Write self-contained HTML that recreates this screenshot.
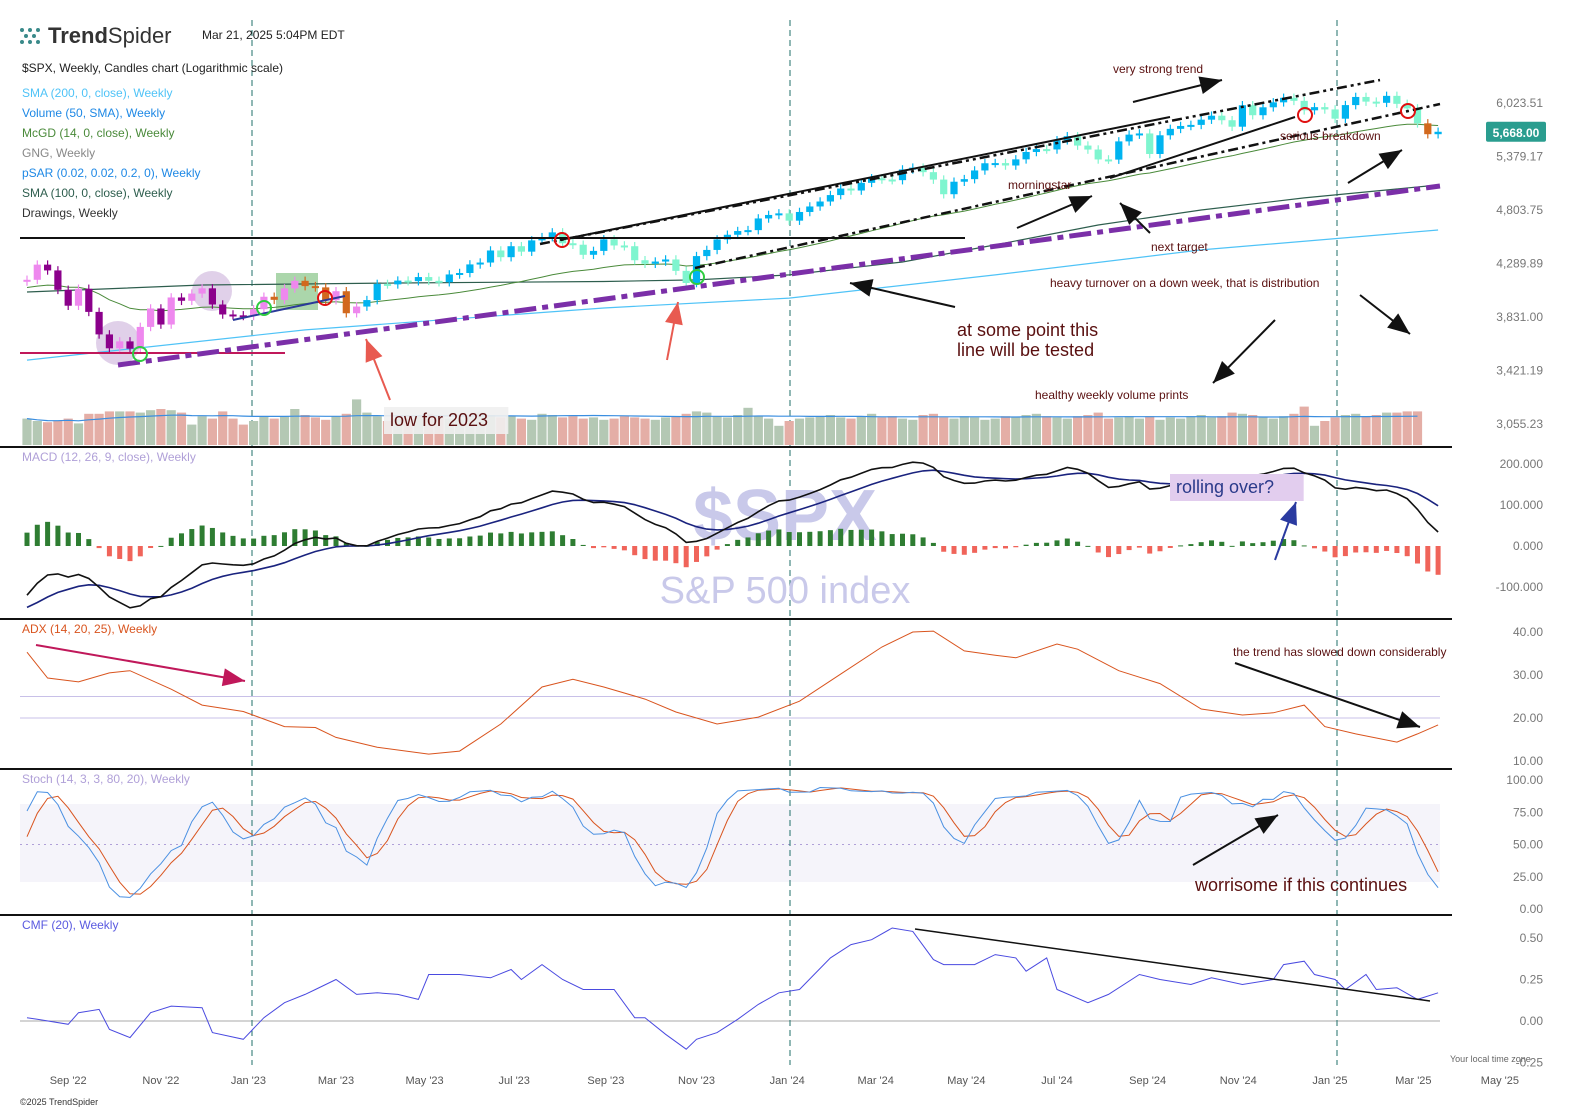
<!DOCTYPE html>
<html><head><meta charset="utf-8">
<style>
html,body{margin:0;padding:0;background:#fff;}
svg{display:block;font-family:"Liberation Sans",sans-serif;}
</style></head>
<body>
<svg id="chart" width="1580" height="1119" viewBox="0 0 1580 1119">
<rect x="0" y="0" width="1580" height="1119" fill="#fff"/>
<g id="bg"></g>
<g id="header">
  <g fill="#3a8a8a">
    <circle cx="22" cy="30" r="2"/><circle cx="30" cy="30" r="2"/><circle cx="38" cy="30" r="2"/>
    <circle cx="26" cy="36" r="2"/><circle cx="34" cy="36" r="2"/>
    <circle cx="22" cy="42" r="2"/><circle cx="30" cy="42" r="2"/><circle cx="38" cy="42" r="2"/>
  </g>
  <text x="48" y="43" font-size="22" fill="#333"><tspan font-weight="bold">Trend</tspan>Spider</text>
  <text x="202" y="39" font-size="12" fill="#222">Mar 21, 2025 5:04PM EDT</text>
  <text x="22" y="72" font-size="12" fill="#222">$SPX, Weekly, Candles chart (Logarithmic scale)</text>
  <text x="22" y="97" font-size="12" fill="#4fc3f7">SMA (200, 0, close), Weekly</text>
  <text x="22" y="117" font-size="12" fill="#1e88e5">Volume (50, SMA), Weekly</text>
  <text x="22" y="137" font-size="12" fill="#4a8a3a">McGD (14, 0, close), Weekly</text>
  <text x="22" y="157" font-size="12" fill="#888">GNG, Weekly</text>
  <text x="22" y="177" font-size="12" fill="#1e88e5">pSAR (0.02, 0.02, 0.2, 0), Weekly</text>
  <text x="22" y="197" font-size="12" fill="#2e5e4e">SMA (100, 0, close), Weekly</text>
  <text x="22" y="217" font-size="12" fill="#333">Drawings, Weekly</text>
</g>
<g id="wm">
  <text x="785" y="540" font-size="72" font-weight="bold" fill="#c9c9ea" text-anchor="middle">$SPX</text>
  <text x="785" y="603" font-size="38" fill="#c9c9ea" text-anchor="middle">S&amp;P 500 index</text>
</g>
<g id="plot"></g>
<g id="draw"></g>
<g id="axes"></g>
</svg>
<script>
// ===== DATA =====
const warmCloses = [4677,4663,4398,4432,4500,4419,4349,4385,4329,4204,4463,4543,4546,4488,4392,4272,4132,4123,4024,3901,4158,4109,3901,3675,3912,3825,3899,3863,3962,4130];
const closes = [4145,4280,4228,4058,3924,4067,3873,3693,3586,3639,3583,3752,3901,3771,3993,3965,4026,4071,3934,3852,3845,3840,
3895,3999,3973,4070,4136,4090,4079,3970,4046,3862,3917,3971,4109,4105,4138,4133,4169,4136,4124,4192,4205,4282,4299,4410,4348,4450,4399,4505,4536,4582,4478,4464,4370,4406,4515,4457,4450,4320,4288,4308,4327,4224,4117,4358,4415,4514,4559,4595,4604,4719,4754,4770,
4697,4784,4840,4891,4958,5027,5006,5088,5137,5124,5117,5234,5254,5204,5123,4967,5100,5128,5223,5303,5305,5278,5347,5431,5464,5460,5567,5615,5505,5459,5346,5344,5554,5634,5648,5408,5626,5703,5738,5751,5815,5864,5808,5729,5995,5870,5969,6032,6090,6051,5931,5971,
5942,5827,5997,6101,6041,6026,6115,6013,5955,5770,5639,5668];
const volumes = [22,20,19,20,22,18,26,26,28,28,28,27,29,30,29,27,17,24,22,28,22,17,
20,24,22,24,30,25,23,21,24,26,38,27,24,20,22,25,24,26,23,22,21,24,27,25,23,24,22,21,26,25,23,24,22,23,21,22,24,23,22,21,23,24,26,28,27,24,23,25,31,24,22,
16,20,22,23,24,25,23,22,24,26,23,24,22,21,25,26,23,22,24,23,21,22,24,23,25,26,24,23,22,24,25,27,22,23,24,22,24,21,23,22,24,25,23,24,27,26,25,23,22,24,26,
32,16,20,23,25,26,24,25,27,27,28,28];
const sma200Weeks = [0,27,56,74,94,114,137];
const sma200Vals = [3498,3728,3905,3988,4188,4415,4605];
const sma100Weeks = [0,17,36,56,65,74,85,94,104,114,124,137];
const sma100Vals = [4039,4100,4117,4130,4144,4188,4304,4462,4654,4804,4928,5065];
const adxWeeks = [0,2,5,8,10,14,17,21,25,28,30,34,39,42,46,50,53,56,60,63,67,71,75,79,83,86,88,91,94,96,100,102,106,110,114,118,121,124,126,129,133,135,137];
const adxVals = [35.3,29.3,28.4,30.5,31,26.7,23,21.5,18,17.8,15.5,13.2,11.6,12.3,18.6,27.2,29,27.2,24.4,21.4,18.6,20.2,23.9,30.2,36.5,40,40.2,35.6,34.6,34,37.2,36,31,28,22.1,20.7,21.2,23,18,16.3,14.4,16.3,18.4];
const cmfWeeks = [0,1,4,5,7,8,10,12,14,17,18,21,23,25,27,28,30,32,34,36,38,39,42,45,47,48,50,52,54,57,59,60,62,64,65,67,69,71,73,75,78,80,82,84,86,88,89,92,94,96,97,99,100,103,105,108,110,113,115,118,121,122,124,125,127,128,130,131,133,135,137];
const cmfVals = [0.02,0.01,-0.02,0.05,0.07,-0.05,-0.1,0.05,0.09,0.08,-0.07,-0.11,0.02,0.11,0.16,0.19,0.25,0.16,0.17,0.16,0.13,0.28,0.28,0.26,0.31,0.25,0.34,0.25,0.19,0.19,0.02,0.02,-0.08,-0.17,-0.11,-0.07,0.01,0.1,0.17,0.19,0.38,0.46,0.49,0.56,0.54,0.37,0.34,0.34,0.4,0.38,0.3,0.38,0.19,0.11,0.16,0.28,0.25,0.22,0.26,0.22,0.25,0.34,0.36,0.28,0.25,0.19,0.28,0.19,0.2,0.13,0.17];
const priceTicks = [6023.51,5379.17,4803.75,4289.89,3831.00,3421.19,3055.23];
const macdTicks = [200,100,0,-100];
const adxTicks = [40,30,20,10];
const stochTicks = [100,75,50,25,0];
const cmfTicks = [0.5,0.25,0,-0.25];
const xLabels = ["Sep '22","Nov '22","Jan '23","Mar '23","May '23","Jul '23","Sep '23","Nov '23","Jan '24","Mar '24","May '24","Jul '24","Sep '24","Nov '24","Jan '25","Mar '25","May '25"];
const xLabelWeeks = [4,13,21.5,30,38.6,47.3,56.2,65,73.8,82.4,91.2,100,108.8,117.6,126.5,134.6,143];

// ===== SCALES =====
const NS='http://www.w3.org/2000/svg';
const X0=27, DX=10.3;
const xW = w => X0 + w*DX;
const yP = p => 103 + 473*Math.log(6023.51/p);
const yM = v => 546 - v*0.41;
const yA = v => 761 - (v-10)*4.3;
const yS = v => 909 - v*1.29;
const yC = v => 1021 - v*166;
const VOLK = 1.2, HISTK = 0.45;
function el(tag, attrs, parent){const e=document.createElementNS(NS,tag);for(const k in attrs)e.setAttribute(k,attrs[k]);(parent||document.getElementById('plot')).appendChild(e);return e;}
function pathFrom(xs, ys){return xs.map((x,i)=>(i?'L':'M')+x.toFixed(1)+' '+ys[i].toFixed(1)).join(' ');}

const bg=document.getElementById('bg'), plot=document.getElementById('plot'), axes=document.getElementById('axes');

let r=el('rect',{x:20,y:804,width:1420,height:78,fill:'#f5f4fa'},bg);


let l;
l=el('line',{x1:20,x2:1440,y1:yS(50),y2:yS(50),stroke:'#b0a0d8','stroke-dasharray':'2 4'},bg);


[20,25].forEach(v=>{
  const g=el('line',{x1:20,x2:1440,y1:yA(v),y2:yA(v),stroke:'#c8c0e8'},bg);
  
  
});
l=el('line',{x1:20,x2:1440,y1:yC(0),y2:yC(0),stroke:'#aaa'},bg);


[252,790,1337].forEach(x=>{
  const v=el('line',{x1:x,x2:x,y1:20,y2:1065,stroke:'#1f6f6a','stroke-dasharray':'6 4'},bg);
  
  
});
let c=el('circle',{cx:118,cy:343,r:22,fill:'#d8c4e4',opacity:0.8},bg);


c=el('circle',{cx:212,cy:291,r:20,fill:'#d8c4e4',opacity:0.8},bg);


r=el('rect',{x:276,y:273,width:42,height:37,fill:'#8fc88f',opacity:0.75},bg);



[447,619,769,915].forEach(y=>{
  const s=el('line',{x1:0,x2:1452,y1:y,y2:y,stroke:'#111','stroke-width':2},axes);
  
  
});

// ===== VOLUME =====
const volSma=[];
volumes.forEach((v,i)=>{const s=volumes.slice(Math.max(0,i-49),i+1);volSma.push(s.reduce((a,b)=>a+b,0)/s.length);});
volumes.forEach((v,i)=>{
  const prev=i?closes[i-1]:warmCloses[warmCloses.length-1];
  const h=v*VOLK;
  const b=el('rect',{x:xW(i)-4.6,y:445-h,width:9.2,height:h,fill:closes[i]>=prev?'#b4c8b4':'#e4aea6'});
  
  
});
l=el('path',{d:pathFrom(volSma.map((_,i)=>xW(i)),volSma.map(v=>445-v*VOLK)),fill:'none',stroke:'#3a8ee0','stroke-width':1.2});



// ===== MA LINES =====
l=el('path',{d:pathFrom(sma200Weeks.map(xW),sma200Vals.map(yP)),fill:'none',stroke:'#4fc3f7','stroke-width':1.2});


l=el('path',{d:pathFrom(sma100Weeks.map(xW),sma100Vals.map(yP)),fill:'none',stroke:'#2e5e4e','stroke-width':1.2});


const allC=warmCloses.concat(closes);
let md=allC[0];const mcgd=[];
allC.forEach((p,i)=>{if(i)md=md+(p-md)/(14*Math.pow(p/md,4));if(i>=warmCloses.length)mcgd.push(md);});
l=el('path',{d:pathFrom(mcgd.map((_,i)=>xW(i)),mcgd.map(yP)),fill:'none',stroke:'#4a8a3a','stroke-width':1});



// ===== CANDLES =====
closes.forEach((cl,i)=>{
  const o=i?closes[i-1]:warmCloses[warmCloses.length-1];
  const up=cl>=o;
  let col;
  if(i<33) col=up?'#ee88ee':(i<24?'#8b008b':'#d2691e');
  else col=up?'#00b4f0':'#7ff5cf';
  if(i===136) col='#d2691e';
  const hi=Math.max(o,cl)*1.009, lo=Math.min(o,cl)*0.991;
  const w=el('line',{x1:xW(i),x2:xW(i),y1:yP(hi),y2:yP(lo),stroke:col,'stroke-width':1.2});
  
  
  const yt=yP(Math.max(o,cl)), yb=yP(Math.min(o,cl));
  const b=el('rect',{x:xW(i)-3.6,y:yt,width:7.2,height:Math.max(2,yb-yt),fill:col});
  
  
});

// ===== MACD =====
let e12=allC[0],e26=allC[0],sig=0;const macd=[],sigA=[];
allC.forEach((p,i)=>{e12=e12+(p-e12)*2/13;e26=e26+(p-e26)*2/27;const m=e12-e26;sig=sig+(m-sig)*2/10;if(i>=warmCloses.length){macd.push(m);sigA.push(sig);}});
macd.forEach((m,i)=>{
  const h=(m-sigA[i])*HISTK;
  const b=el('rect',{x:xW(i)-2.5,y:Math.min(546,546-h),width:5,height:Math.max(1,Math.abs(h)),fill:h>=0?'#2e7d32':'#f0645a'});
  
  
});
l=el('path',{d:pathFrom(sigA.map((_,i)=>xW(i)),sigA.map(yM)),fill:'none',stroke:'#1a237e','stroke-width':1.6});


l=el('path',{d:pathFrom(macd.map((_,i)=>xW(i)),macd.map(yM)),fill:'none',stroke:'#111','stroke-width':1.6});



// ===== ADX =====
l=el('path',{d:pathFrom(adxWeeks.map(xW),adxVals.map(yA)),fill:'none',stroke:'#d9541e','stroke-width':1});



// ===== STOCH =====
const rawK=allC.map((p,i)=>{const s=allC.slice(Math.max(0,i-13),i+1);const lo=Math.min(...s)*0.985,hi=Math.max(...s)*1.01;return (p-lo)/(hi-lo)*100;});
const sma3=a=>a.map((v,i)=>{const s=a.slice(Math.max(0,i-2),i+1);return s.reduce((x,y)=>x+y,0)/s.length;});
const slowK=sma3(rawK), slowD=sma3(slowK);
const kS=slowK.slice(warmCloses.length), dS=slowD.slice(warmCloses.length);
l=el('path',{d:pathFrom(dS.map((_,i)=>xW(i)),dS.map(yS)),fill:'none',stroke:'#d9541e','stroke-width':1});


l=el('path',{d:pathFrom(kS.map((_,i)=>xW(i)),kS.map(yS)),fill:'none',stroke:'#4a90e2','stroke-width':1});



// ===== CMF =====
l=el('path',{d:pathFrom(cmfWeeks.map(xW),cmfVals.map(yC)),fill:'none',stroke:'#4a4ae0','stroke-width':1});



// ===== AXES =====
function tick(txt,y,name){const t=el('text',{x:1543,y:y+4,'font-size':12,fill:'#777','text-anchor':'end'},axes);t.textContent=txt;}
priceTicks.forEach(p=>tick(p.toLocaleString('en-US',{minimumFractionDigits:2,maximumFractionDigits:2}),yP(p),'price-axis-label'));
macdTicks.forEach(v=>tick(v.toFixed(3),yM(v),'macd-axis-label'));
adxTicks.forEach(v=>tick(v.toFixed(2),yA(v),'adx-axis-label'));
stochTicks.forEach(v=>tick(v.toFixed(2),yS(v),'stoch-axis-label'));
cmfTicks.forEach(v=>tick(v.toFixed(2),yC(v),'cmf-axis-label'));
xLabels.forEach((s,i)=>{const t=el('text',{x:xW(xLabelWeeks[i]),y:1084,'font-size':11,fill:'#555','text-anchor':'middle'},axes);t.textContent=s;});
const lastC=closes[closes.length-1];
r=el('rect',{x:1486,y:yP(lastC)-10,width:60,height:20,rx:2,fill:'#2a9d8f'},axes);


let t=el('text',{x:1516,y:yP(lastC)+5,'font-size':12,fill:'#fff','text-anchor':'middle','font-weight':'bold'},axes);
t.textContent=lastC.toLocaleString('en-US',{minimumFractionDigits:2});


</script>
<script>
const D=document.getElementById('draw');
function ln(x1,y1,x2,y2,st,name){const e=document.createElementNS('http://www.w3.org/2000/svg','line');e.setAttribute('x1',x1);e.setAttribute('y1',y1);e.setAttribute('x2',x2);e.setAttribute('y2',y2);for(const k in st)e.setAttribute(k,st[k]);D.appendChild(e);return e;}
function arrow(x1,y1,x2,y2,col,name){
  ln(x1,y1,x2,y2,{stroke:col,'stroke-width':2},name);
  const a=Math.atan2(y2-y1,x2-x1),L=22,W=9;
  const p=document.createElementNS('http://www.w3.org/2000/svg','polygon');
  const bx=x2-L*Math.cos(a),by=y2-L*Math.sin(a);
  p.setAttribute('points',`${x2},${y2} ${bx+W*Math.sin(a)},${by-W*Math.cos(a)} ${bx-W*Math.sin(a)},${by+W*Math.cos(a)}`);
  p.setAttribute('fill',col);
  
  
  D.appendChild(p);
}
function txt(x,y,s,size,col,name,bg){
  const e=document.createElementNS('http://www.w3.org/2000/svg','text');
  e.setAttribute('x',x);e.setAttribute('y',y);e.setAttribute('font-size',size);e.setAttribute('fill',col);
  e.textContent=s;
  if(bg){const r=document.createElementNS('http://www.w3.org/2000/svg','rect');r.setAttribute('x',x-6);r.setAttribute('y',y-size-1);r.setAttribute('width',s.length*size*0.52+12);r.setAttribute('height',size+9);r.setAttribute('fill',bg);D.appendChild(r);}
  D.appendChild(e);
}
ln(20,238,965,238,{stroke:'#111','stroke-width':2},'resistance-line');
ln(20,353,285,353,{stroke:'#c0185a','stroke-width':2},'support-line');
ln(118,365,1440,186,{stroke:'#7b2fa8','stroke-width':5,'stroke-dasharray':'22 6 6 6'},'long-term-trendline');
ln(560,240,1170,117,{stroke:'#111','stroke-width':2},'upper-channel-line');
ln(540,244,1380,80,{stroke:'#111','stroke-width':2.5,'stroke-dasharray':'10 4 3 4 3 4'},'upper-channel-dashdot');
ln(695,268,1440,104,{stroke:'#111','stroke-width':2.5,'stroke-dasharray':'10 4 3 4'},'lower-channel-dashdot');
ln(1110,178,1295,117,{stroke:'#111','stroke-width':2},'breakout-line');
ln(233,320,345,296,{stroke:'#2a3a9a','stroke-width':2},'short-trendline');
ln(915,929,1430,1001,{stroke:'#111','stroke-width':1.5},'cmf-divergence-line');
[[140,354,'#2ecc40'],[264,308,'#2ecc40'],[697,277,'#2ecc40'],[325,298,'#e01010'],[562,240,'#e01010'],[1305,115,'#e01010'],[1408,111,'#e01010']].forEach(m=>{
  const e=document.createElementNS('http://www.w3.org/2000/svg','circle');
  e.setAttribute('cx',m[0]);e.setAttribute('cy',m[1]);e.setAttribute('r',7);e.setAttribute('fill','none');e.setAttribute('stroke',m[2]);e.setAttribute('stroke-width',2);
  D.appendChild(e);
});
arrow(1133,102,1222,80,'#111','arrow-very-strong-trend');
arrow(1017,228,1092,196,'#111','arrow-morningstar');
arrow(1150,233,1120,203,'#111','arrow-next-target');
arrow(1348,183,1402,150,'#111','arrow-breakdown');
arrow(955,307,850,283,'#111','arrow-line-tested');
arrow(1275,320,1213,383,'#111','arrow-volume');
arrow(1360,295,1410,334,'#111','arrow-distribution');
arrow(390,400,366,339,'#e85a50','arrow-low-2023');
arrow(667,360,678,302,'#e85a50','arrow-low-2023b');
arrow(1275,560,1296,502,'#2a3aa0','arrow-rolling-over');
arrow(1193,865,1278,815,'#111','arrow-stoch');
arrow(1235,663,1420,727,'#111','arrow-adx-slowdown');
arrow(36,645,245,681,'#c0185a','arrow-adx-decline');
const ac='#5a1010';
txt(1113,73,'very strong trend',12,ac,'annotation-very-strong-trend');
txt(1280,140,'serious breakdown',12,ac,'annotation-serious-breakdown');
txt(1008,189,'morningstar',12,ac,'annotation-morningstar');
txt(1151,251,'next target',12,ac,'annotation-next-target');
txt(1050,287,'heavy turnover on a down week, that is distribution',12,ac,'annotation-distribution');
txt(957,336,'at some point this',18,ac,'annotation-line-tested-1');
txt(957,356,'line will be tested',18,ac,'annotation-line-tested-2');
txt(1035,399,'healthy weekly volume prints',12,ac,'annotation-volume');
txt(390,426,'low for 2023',18,ac,'annotation-low-2023','rgba(240,240,240,0.9)');
txt(1176,493,'rolling over?',18,'#2a3a8a','annotation-rolling-over','#e2cdee');
txt(1233,656,'the trend has slowed down considerably',12,ac,'annotation-adx');
txt(1195,891,'worrisome if this continues',18,ac,'annotation-stoch');
txt(22,461,'MACD (12, 26, 9, close), Weekly',12,'#b0a0d8','macd-title');
txt(22,633,'ADX (14, 20, 25), Weekly',12,'#d9541e','adx-title');
txt(22,783,'Stoch (14, 3, 3, 80, 20), Weekly',12,'#b0a0d8','stoch-title');
txt(22,929,'CMF (20), Weekly',12,'#5a5ae0','cmf-title');
txt(1450,1062,'Your local time zone',9,'#666','timezone-label');
txt(20,1105,'©2025 TrendSpider',9,'#333','copyright');
</script>
</body></html>
